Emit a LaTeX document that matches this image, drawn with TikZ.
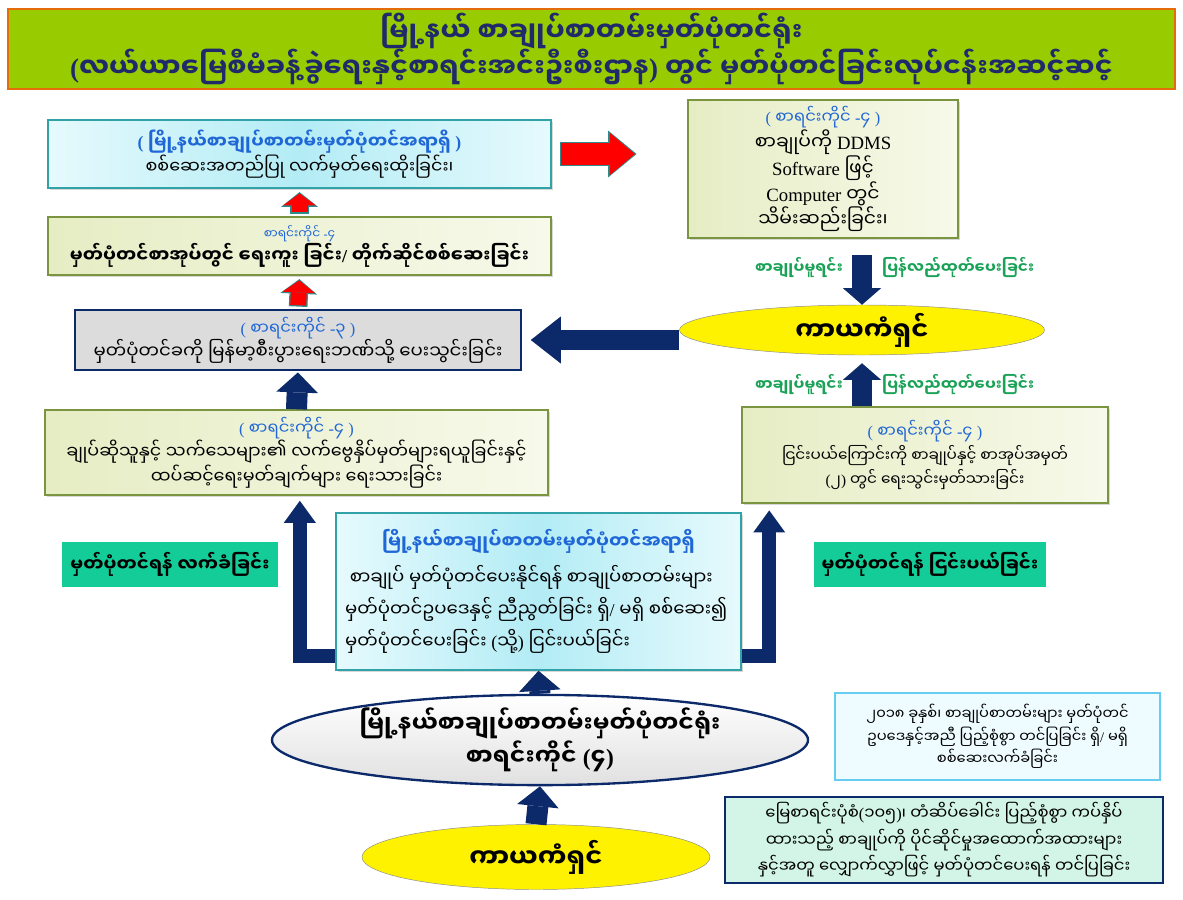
\documentclass[tikz,border=0pt]{standalone}
\usepackage{fontspec}
\setmainfont{Liberation Serif}
\newfontfamily\mmfont[Script=Myanmar]{Noto Sans Myanmar UI}
\usetikzlibrary{arrows.meta,positioning,calc,shadows,shapes.geometric}

\definecolor{titlegreen}{HTML}{99CC00}
\definecolor{titleline}{HTML}{E46C0A}
\definecolor{titletext}{HTML}{1F2A6B}
\definecolor{navy}{HTML}{0C2A6A}
\definecolor{oliveline}{HTML}{7A9440}
\definecolor{oliveL}{HTML}{E6EDC4}
\definecolor{oliveR}{HTML}{F7F9EA}
\definecolor{cyanline}{HTML}{31A3A8}
\definecolor{cyanL}{HTML}{E6FAFD}
\definecolor{cyanM}{HTML}{B3ECF5}
\definecolor{grayfill}{HTML}{DCDCDC}
\definecolor{bluetxt}{HTML}{1F66D6}
\definecolor{greentxt}{HTML}{1AA257}
\definecolor{lblfill}{HTML}{14CC98}
\definecolor{noteline}{HTML}{66CCF0}
\definecolor{notefill}{HTML}{EFFCFF}
\definecolor{mintfill}{HTML}{D2F5E8}
\definecolor{redrim}{HTML}{2E8B8B}

% signs the Myanmar face lacks
\newcommand\lp{{\rmfamily(}}
\newcommand\rp{{\rmfamily)}}
\newcommand\hy{{\rmfamily-}}
\newcommand\sls{{\rmfamily/}}
\newcommand\fs[2]{\fontsize{#1}{#2}\selectfont}

\begin{document}
\begin{tikzpicture}[
  x=0.03cm, y=-0.03cm,
  font=\mmfont\fs{15}{20},
  shade/.style={drop shadow={shadow xshift=2pt, shadow yshift=-2pt, opacity=.3}},
  olivebox/.style={draw=oliveline, line width=1.3pt, left color=oliveL, right color=oliveR, align=center, inner sep=0pt, shade},
  cyanbox/.style={draw=cyanline, line width=1.3pt, left color=cyanL, right color=cyanL, middle color=cyanM, align=center, inner sep=0pt, shade},
  graybox/.style={draw=navy, line width=1.3pt, fill=grayfill, align=center, inner sep=0pt},
  owner/.style={ellipse, fill=yellow, draw=black!45, line width=0.4pt, inner sep=0pt, font=\mmfont\fs{22}{26}\bfseries},
  tag/.style={fill=lblfill, inner sep=0pt, font=\mmfont\fs{15.5}{20}\bfseries},
  greenword/.style={text=greentxt, inner sep=0pt, font=\mmfont\fs{13}{16}\bfseries},
  navyarrow/.style={draw=navy, line width=0.63cm, -{Triangle[width=1.25cm, length=0.6cm, line width=0pt]}},
  sidearrow/.style={draw=navy, line width=0.6cm, -{Triangle[width=1.15cm, length=0.5cm, line width=0pt]}},
  widearrow/.style={draw=navy, line width=0.6cm, -{Triangle[width=1.41cm, length=0.9cm, line width=0pt]}},
  elbow/.style={draw=navy, line width=0.42cm, -{Triangle[width=0.96cm, length=0.66cm, line width=0pt]}},
  redbig/.style={draw=red, line width=0.66cm, -{Triangle[width=1.26cm, length=0.75cm, line width=0pt]}},
  redbigrim/.style={draw=redrim, line width=0.74cm, -{Triangle[width=1.4cm, length=0.85cm, line width=0pt]}},
  redsmall/.style={draw=red, line width=0.48cm, -{Triangle[width=0.98cm, length=0.36cm, line width=0pt]}},
  redsmallrim/.style={draw=redrim, line width=0.56cm, -{Triangle[width=1.1cm, length=0.44cm, line width=0pt]}}
]
\useasboundingbox (0,0) rectangle (1183,899);
\fill[white] (0,0) rectangle (1183,899);

% title band
\node[fill=titlegreen, draw=titleline, line width=1.5pt, minimum width=35.01cm, minimum height=2.34cm, align=center, text=titletext,
  font=\mmfont\fs{23}{27.3}\bfseries] (title) at (591.5,49)
  {မြို့နယ် စာချုပ်စာတမ်းမှတ်ပုံတင်ရုံး\\\lp လယ်ယာမြေစီမံခန့်ခွဲရေးနှင့်စာရင်းအင်းဦးစီးဌာန\rp\ တွင် မှတ်ပုံတင်ခြင်းလုပ်ငန်းအဆင့်ဆင့်};

% left column
\node[cyanbox, minimum width=15.09cm, minimum height=2.04cm, font=\mmfont\fs{15}{19.6}] (signoff) at (299.5,154)
  {\textcolor{bluetxt}{\bfseries\lp\ မြို့နယ်စာချုပ်စာတမ်းမှတ်ပုံတင်အရာရှိ \rp}\\စစ်ဆေးအတည်ပြု လက်မှတ်ရေးထိုးခြင်း၊};
\node[olivebox, minimum width=15.09cm, minimum height=1.74cm, font=\mmfont\fs{15.5}{20.5}] (copybook) at (299.5,246)
  {\textcolor{bluetxt}{\fs{10.5}{14}စာရင်းကိုင် \hy၄}\\\textbf{မှတ်ပုံတင်စာအုပ်တွင် ရေးကူး ခြင်း\sls\ တိုက်ဆိုင်စစ်ဆေးခြင်း}};
\node[graybox, minimum width=13.38cm, minimum height=1.8cm, font=\mmfont\fs{15.5}{20.5}] (payfee) at (298,340)
  {\textcolor{bluetxt}{\fs{14}{18}\lp\ စာရင်းကိုင် \hy၃ \rp}\\မှတ်ပုံတင်ခကို မြန်မာ့စီးပွားရေးဘဏ်သို့ ပေးသွင်းခြင်း};
\node[olivebox, minimum width=15.09cm, minimum height=2.55cm, font=\mmfont\fs{15}{19.2}] (thumb) at (296.5,452.5)
  {\textcolor{bluetxt}{\fs{14}{18}\lp\ စာရင်းကိုင် \hy၄ \rp}\\ချုပ်ဆိုသူနှင့် သက်သေများ၏ လက်ဗွေနှိပ်မှတ်များရယူခြင်းနှင့်\\ထပ်ဆင့်ရေးမှတ်ချက်များ ရေးသားခြင်း};

% right column
\node[olivebox, minimum width=8.1cm, minimum height=4.14cm, font=\mmfont\fs{16}{19.9}] (ddms) at (823,169)
  {\textcolor{bluetxt}{\fs{14}{18}\lp\ စာရင်းကိုင် \hy၄ \rp}\\စာချုပ်ကို {\rmfamily DDMS}\\{\rmfamily Software} ဖြင့်\\{\rmfamily Computer} တွင်\\သိမ်းဆည်းခြင်း၊};
\node[owner, minimum width=10.95cm, minimum height=1.5cm] (ownerR) at (862,330) {ကာယကံရှင်};
\node[olivebox, minimum width=10.98cm, minimum height=2.88cm, font=\mmfont\fs{13}{20.5}] (refusenote) at (925,455)
  {\textcolor{bluetxt}{\fs{14}{18}\lp\ စာရင်းကိုင် \hy၄ \rp}\\ငြင်းပယ်ကြောင်းကို စာချုပ်နှင့် စာအုပ်အမှတ်\\\lp၂\rp\ တွင် ရေးသွင်းမှတ်သားခြင်း};

\coordinate (dropTop) at (862,255);
\node[greenword, anchor=east] (origA) at (843,268) {စာချုပ်မူရင်း};
\node[greenword, anchor=west] (reissueA) at (882,268) {ပြန်လည်ထုတ်ပေးခြင်း};
\node[greenword, anchor=east] (origB) at (843,385) {စာချုပ်မူရင်း};
\node[greenword, anchor=west] (reissueB) at (882,385) {ပြန်လည်ထုတ်ပေးခြင်း};

% centre
\node[cyanbox, minimum width=12.15cm, minimum height=4.71cm, align=left, font=\mmfont\fs{15.5}{27.3}] (review) at (538.5,591.5)
  {\makebox[11.6cm]{\textcolor{bluetxt}{\bfseries မြို့နယ်စာချုပ်စာတမ်းမှတ်ပုံတင်အရာရှိ}}\\[4pt]
   \ စာချုပ် မှတ်ပုံတင်ပေးနိုင်ရန် စာချုပ်စာတမ်းများ\\
   မှတ်ပုံတင်ဥပဒေနှင့် ညီညွတ်ခြင်း ရှိ\sls\ မရှိ စစ်ဆေး၍\\
   မှတ်ပုံတင်ပေးခြင်း \lp သို့\rp\ ငြင်းပယ်ခြင်း};
\node[tag, minimum width=6.48cm, minimum height=1.35cm] (accept) at (170,564.5) {မှတ်ပုံတင်ရန် လက်ခံခြင်း};
\node[tag, minimum width=6.96cm, minimum height=1.35cm] (refuse) at (930,564.5) {မှတ်ပုံတင်ရန် ငြင်းပယ်ခြင်း};

\node[ellipse, draw=navy, line width=2pt, top color=white, bottom color=black!12, inner sep=0pt, align=center,
  minimum width=16.08cm, minimum height=2.28cm, font=\mmfont\fs{20}{28}\bfseries] (office) at (540,740)
  {မြို့နယ်စာချုပ်စာတမ်းမှတ်ပုံတင်ရုံး\\စာရင်းကိုင် \lp၄\rp};
\node[owner, minimum width=10.44cm, minimum height=1.95cm] (owner) at (536,857) {ကာယကံရှင်};

% notes
\node[draw=noteline, line width=2pt, fill=notefill, minimum width=9.75cm, minimum height=2.61cm, inner sep=0pt, align=center,
  font=\mmfont\fs{12.5}{19}] (lawnote) at (997.5,736.5)
  {၂၀၁၈ ခုနှစ်၊ စာချုပ်စာတမ်းများ မှတ်ပုံတင်\\ဥပဒေနှင့်အညီ ပြည့်စုံစွာ တင်ပြခြင်း ရှိ\sls\ မရှိ\\စစ်ဆေးလက်ခံခြင်း};
\node[draw=navy, line width=2pt, fill=mintfill, minimum width=13.14cm, minimum height=2.58cm, inner sep=0pt, align=center,
  font=\mmfont\fs{14}{22.6}] (submit) at (944,840)
  {မြေစာရင်းပုံစံ\lp၁၀၅\rp၊ တံဆိပ်ခေါင်း ပြည့်စုံစွာ ကပ်နှိပ်\\ထားသည့် စာချုပ်ကို ပိုင်ဆိုင်မှုအထောက်အထားများ\\နှင့်အတူ လျှောက်လွှာဖြင့် မှတ်ပုံတင်ပေးရန် တင်ပြခြင်း};

% red arrows
\draw[redbigrim, shorten <=0.25cm, shorten >=1.52cm] (signoff.east) -- (signoff.east -| ddms.west);
\draw[redbig, shorten <=0.29cm, shorten >=1.57cm] (signoff.east) -- (signoff.east -| ddms.west);
\draw[redsmallrim, shorten <=0.08cm, shorten >=0.1cm] (copybook.north) -- (signoff.south);
\draw[redsmall, shorten <=0.12cm, shorten >=0.14cm] (copybook.north) -- (signoff.south);
\draw[redsmallrim, shorten <=0.08cm, shorten >=0.1cm] (payfee.north) -- (copybook.south);
\draw[redsmall, shorten <=0.12cm, shorten >=0.14cm] (payfee.north) -- (copybook.south);

% navy arrows
\draw[widearrow, shorten >=0.27cm] (ownerR.west |- payfee.east) -- (payfee.east);
\draw[sidearrow] (dropTop) -- (ownerR.north);
\draw[sidearrow, shorten >=0.24cm] (ownerR.south |- refusenote.north) -- (ownerR.south);
\draw[navyarrow, shorten >=0.05cm] (thumb.north) -- (payfee.south);
\draw[navyarrow] (office.north) -- (review.south);
\draw[navyarrow] (owner.north) -- (office.south);
\draw[elbow, shorten >=0.15cm] ([yshift=0.45cm]review.south west) -| ([xshift=0.1cm]thumb.south);
\draw[elbow, shorten >=0.2cm] ([yshift=0.45cm]review.south east) -| ([xshift=0.84cm]refusenote.south west);

\end{tikzpicture}
\end{document}
